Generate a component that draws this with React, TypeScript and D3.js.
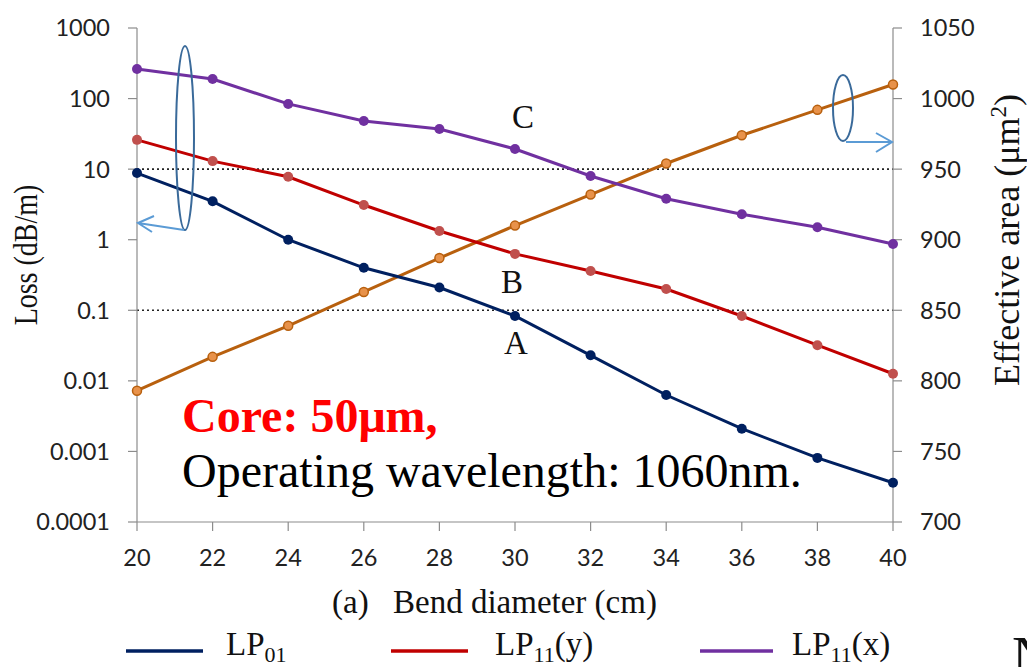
import React from 'react';
import * as d3 from 'd3';

const diameters = [20, 22, 24, 26, 28, 30, 32, 34, 36, 38, 40];
const lossLP01 = [8.8, 3.5, 1.0, 0.4, 0.21, 0.083, 0.023, 0.0063, 0.0021, 0.00081, 0.00036];
const lossLP11y = [26, 13, 7.8, 3.1, 1.33, 0.63, 0.36, 0.2, 0.083, 0.032, 0.0126];
const lossLP11x = [263, 189, 84, 48, 37, 19.3, 8.0, 3.8, 2.3, 1.5, 0.87];
const effArea = [793, 817, 839, 863, 887, 910, 932, 954, 974, 992, 1010];
const lossTicks = [0.0001, 0.001, 0.01, 0.1, 1, 10, 100, 1000];
const lossTickLabels = ['0.0001', '0.001', '0.01', '0.1', '1', '10', '100', '1000'];
const areaTicks = [700, 750, 800, 850, 900, 950, 1000, 1050];
const refLines = [10, 0.1];

const W = 1027;
const H = 667;
const left = 137;
const right = 893;
const top = 28;
const bottom = 522;
const sans = 'Lato, "Open Sans", sans-serif';
const serif = '"Liberation Serif", "Times New Roman", serif';

export default function App() {
  const x = d3.scaleLinear().domain([20, 40]).range([left, right]);
  const y = d3.scaleLog().domain([0.0001, 1000]).range([bottom, top]);
  const y2 = d3.scaleLinear().domain([700, 1050]).range([bottom, top]);

  const lossLine = d3
    .line<number>()
    .x((d, i) => x(diameters[i]))
    .y(d => y(d));
  const areaLine = d3
    .line<number>()
    .x((d, i) => x(diameters[i]))
    .y(d => y2(d));

  const series = [
    { data: lossLP01, stroke: '#002060', fill: '#002060' },
    { data: lossLP11y, stroke: '#c00000', fill: '#c0504d' },
    { data: lossLP11x, stroke: '#7030a0', fill: '#7030a0' },
  ];
  const axisColor = '#8c8c8c';

  return (
    <svg width={W} height={H} style={{ position: 'absolute', left: 0, top: 0, background: '#fff' }}>
      {/* reference dotted lines */}
      {refLines.map(v => (
        <line key={v} x1={left} x2={right} y1={y(v)} y2={y(v)} stroke="#222" strokeWidth={1.6} strokeDasharray="2,3" />
      ))}

      {/* left axis */}
      <line x1={left} x2={left} y1={top} y2={bottom} stroke={axisColor} strokeWidth={1.2} />
      {lossTicks.map((t, i) => (
        <g key={t}>
          <line x1={left - 9} x2={left} y1={y(t)} y2={y(t)} stroke={axisColor} strokeWidth={1.2} />
          <text x={left - 27} y={y(t)} dy="0.36em" textAnchor="end" fontFamily={sans} fontSize={23.5} fill="#222">
            {lossTickLabels[i]}
          </text>
        </g>
      ))}

      {/* right axis */}
      <line x1={right} x2={right} y1={top} y2={bottom} stroke={axisColor} strokeWidth={1.2} />
      {areaTicks.map(t => (
        <g key={t}>
          <line x1={right} x2={right + 9} y1={y2(t)} y2={y2(t)} stroke={axisColor} strokeWidth={1.2} />
          <text x={right + 27} y={y2(t)} dy="0.36em" fontFamily={sans} fontSize={23.5} fill="#222">
            {t}
          </text>
        </g>
      ))}

      {/* bottom axis */}
      <line x1={left} x2={right} y1={bottom} y2={bottom} stroke={axisColor} strokeWidth={1.2} />
      {diameters.map(d => (
        <g key={d}>
          <line x1={x(d)} x2={x(d)} y1={bottom} y2={bottom + 9} stroke={axisColor} strokeWidth={1.2} />
          <text x={x(d)} y={558} dy="0.36em" textAnchor="middle" fontFamily={sans} fontSize={23.5} fill="#222">
            {d}
          </text>
        </g>
      ))}

      {/* axis titles */}
      <text transform="translate(37,255) scale(1.2,1) rotate(-90)" textAnchor="middle" fontFamily={serif} fontSize={28} fill="#111">
        Loss (dB/m)
      </text>
      <text transform="translate(1019,240) rotate(-90)" textAnchor="middle" fontFamily={serif} fontSize={36} fill="#111">
        Effective area (μm<tspan dy={-13} fontSize={23}>2</tspan><tspan dy={13}>)</tspan>
      </text>
      <text x={332} y={613} fontFamily={serif} fontSize={33} fill="#111">
        (a)
        <tspan x={393}>Bend diameter (cm)</tspan>
      </text>

      {/* effective area */}
      <path d={areaLine(effArea) ?? ''} fill="none" stroke="#b8600e" strokeWidth={3} />
      {effArea.map((v, i) => (
        <circle key={i} cx={x(diameters[i])} cy={y2(v)} r={4.5} fill="#e8924a" stroke="#b8600e" strokeWidth={1.5} />
      ))}

      {/* loss series */}
      {series.map((s, k) => (
        <g key={k}>
          <path d={lossLine(s.data) ?? ''} fill="none" stroke={s.stroke} strokeWidth={3} />
          {s.data.map((v, i) => (
            <circle key={i} cx={x(diameters[i])} cy={y(v)} r={5} fill={s.fill} />
          ))}
        </g>
      ))}

      {/* ellipses and arrows */}
      <ellipse cx={185} cy={138} rx={9} ry={92} fill="none" stroke="#3a6a9a" strokeWidth={2} />
      <path d="M184,230 L138,223 M154,216 L138,223 L152,232" fill="none" stroke="#5b9bd5" strokeWidth={2} />
      <ellipse cx={843} cy={108} rx={10} ry={33} fill="none" stroke="#3a6a9a" strokeWidth={2} />
      <path d="M846,142 L892,142 M876,133 L892,142 L876,152" fill="none" stroke="#5b9bd5" strokeWidth={2} />

      {/* annotations */}
      <text x={523} y={128} textAnchor="middle" fontFamily={serif} fontSize={33} fill="#111">C</text>
      <text x={512} y={293} textAnchor="middle" fontFamily={serif} fontSize={33} fill="#111">B</text>
      <text x={516} y={354} textAnchor="middle" fontFamily={serif} fontSize={33} fill="#111">A</text>

      <text x={182} y={432} fontFamily={serif} fontSize={48} fontWeight="bold" fill="#ff0000">
        Core: 50μm,
      </text>
      <text x={182} y={487} fontFamily={serif} fontSize={48} fill="#000">
        Operating wavelength: 1060nm.
      </text>

      {/* legend */}
      {[
        { x0: 126, x1: 203, tx: 226, color: '#002060', sub: '01', tail: '' },
        { x0: 391, x1: 468, tx: 495, color: '#c00000', sub: '11', tail: '(y)' },
        { x0: 700, x1: 773, tx: 792, color: '#7030a0', sub: '11', tail: '(x)' },
      ].map((l, i) => (
        <g key={i}>
          <line x1={l.x0} x2={l.x1} y1={651} y2={651} stroke={l.color} strokeWidth={3.5} />
          <text x={l.tx} y={655} fontFamily={serif} fontSize={33} fill="#111">
            LP<tspan dy={7} fontSize={22}>{l.sub}</tspan>
            <tspan dy={-7}>{l.tail}</tspan>
          </text>
        </g>
      ))}
      <text x={1012} y={676} fontFamily={serif} fontSize={56} fill="#111">N</text>
    </svg>
  );
}
